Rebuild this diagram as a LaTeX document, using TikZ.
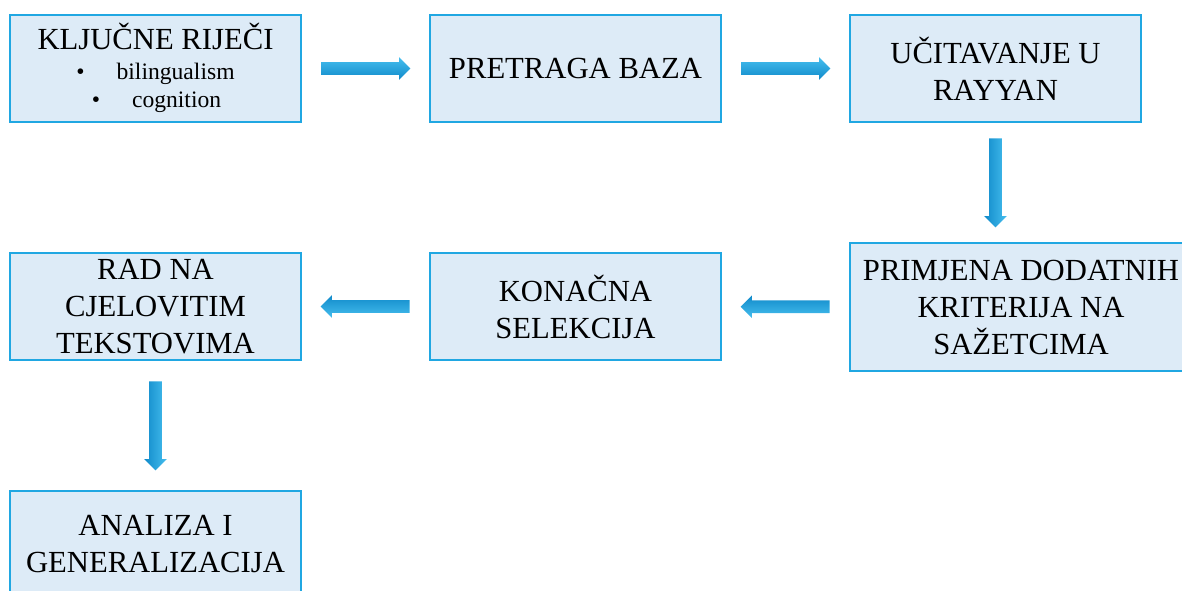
\documentclass[tikz,border=0pt]{standalone}
\usepackage{fontspec}
\setmainfont{Liberation Serif}
\usetikzlibrary{shapes.arrows,calc}
\definecolor{boxfill}{RGB}{221,235,247}
\definecolor{boxline}{RGB}{32,167,226}
\definecolor{arlight}{RGB}{70,190,238}
\definecolor{ardark}{RGB}{16,138,202}
\tikzset{
  stepbox/.style={draw=boxline, fill=boxfill, line width=1.6pt, minimum width=218.25pt, minimum height=80.25pt, inner sep=0pt, align=center, font=\fontsize{23}{27.75}\selectfont},
  bigtxt/.style={inner sep=0pt, anchor=base, font=\fontsize{23}{27.75}\selectfont},
  smalltxt/.style={inner sep=0pt, anchor=base, font=\fontsize{17.7}{21}\selectfont},
  barrow/.style={single arrow, draw=none, inner sep=0pt, text height=4.5pt, text depth=4.5pt, text width=9pt,
     minimum height=66.75pt, minimum width=16.5pt, single arrow head extend=3.75pt, single arrow tip angle=90},
  rarrow/.style={barrow, top color=arlight, bottom color=ardark, xshift=-2pt},
  larrow/.style={barrow, shape border rotate=180, top color=ardark, bottom color=arlight, xshift=2pt},
  darrow/.style={barrow, shape border rotate=270, left color=ardark, right color=arlight, yshift=2pt}
}
\begin{document}
\begin{tikzpicture}[x=0.75pt,y=-0.75pt]
\path[use as bounding box] (0,0) rectangle (1182,591);
\clip (0,0) rectangle (1182,591);
% boxes
\node[stepbox] (b1) at (155.5,68.5) {};
\node[bigtxt] (t1) at (155.5,50) {KLJUČNE RIJEČI};
\node[smalltxt] (t2) at (155.5,80) {\textbullet\hspace{24pt}bilingualism};
\node[smalltxt] (t3) at (156.5,108) {\textbullet\hspace{24pt}cognition};
\node[stepbox] (b2) at (575.5,68.5) {PRETRAGA BAZA};
\node[stepbox] (b3) at (995.5,68.5) {UČITAVANJE U\\RAYYAN};
\node[stepbox, minimum width=256.5pt, minimum height=96pt] (b4) at (1021,307) {PRIMJENA DODATNIH\\KRITERIJA NA\\SAŽETCIMA};
\node[stepbox] (b5) at (575.5,306.5) {KONAČNA\\SELEKCIJA};
\node[stepbox] (b6) at (155.5,306.5) {RAD NA\\CJELOVITIM\\TEKSTOVIMA};
\node[stepbox] (b7) at (155.5,544.5) {ANALIZA I\\GENERALIZACIJA};
% arrows
\node[rarrow] (a1) at ($(b1.east)!0.5!(b2.west)$) {};
\node[rarrow] (a2) at ($(b2.east)!0.5!(b3.west)$) {};
\node[darrow] (a3) at ($(b3.south)!0.5!(b3.south|-b4.north)$) {};
\node[larrow] (a4) at ($(b4.west)!0.5!(b5.east)$) {};
\node[larrow] (a5) at ($(b5.west)!0.5!(b6.east)$) {};
\node[darrow] (a6) at ($(b6.south)!0.5!(b7.north)$) {};
\end{tikzpicture}
\end{document}
